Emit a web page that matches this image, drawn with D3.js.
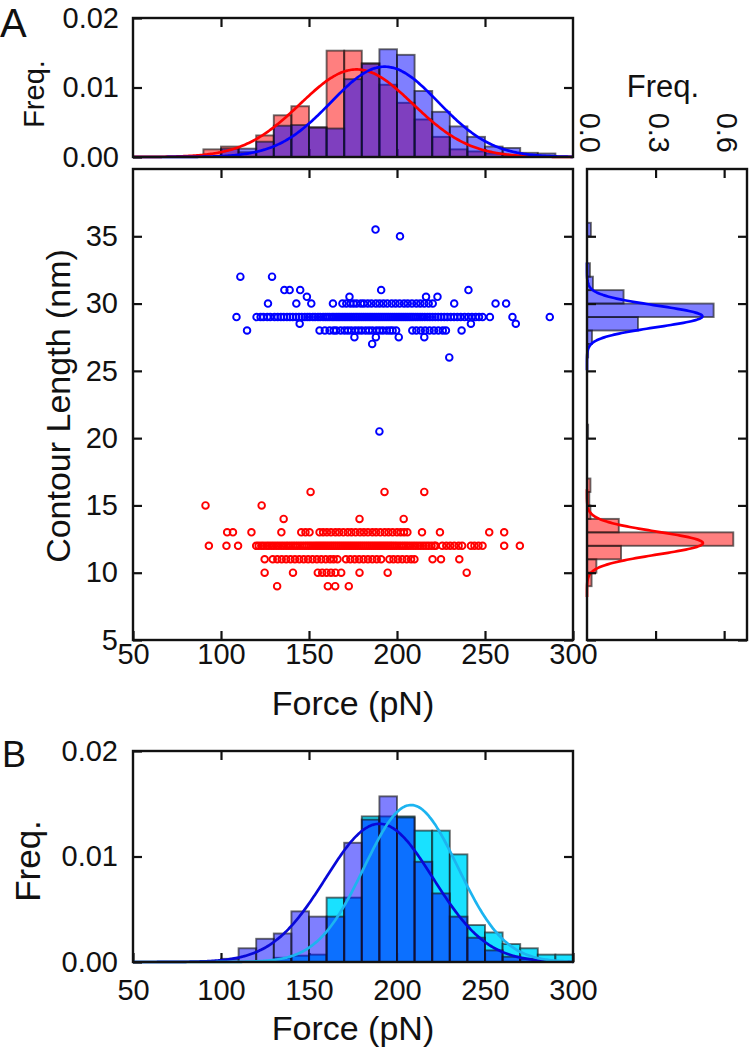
<!DOCTYPE html>
<html><head><meta charset="utf-8">
<script src="https://cdn.jsdelivr.net/npm/d3@7"></script>
<style>
body{margin:0;background:#fff;}
svg text{font-family:"Liberation Sans",Arial,Helvetica,sans-serif;fill:#111;}
</style></head><body>
<svg id="c" width="750" height="1052"></svg>
<script>
// ---------------- DATA ----------------
const forceTicks = [50,100,150,200,250,300];
const lengthTicks = [5,10,15,20,25,30,35];
const freqTicksA = [0.00,0.01,0.02];
const freqTicksRight = [0.0,0.3,0.6];

// Panel A top histogram (10 pN bins, start values)
const topBinStarts = [90,100,110,120,130,140,150,160,170,180,190,200,210,220,230,240,250,260,270,280,290];
const topRed  = [0.0011,0.0015,0.0007,0.0031,0.0060,0.0073,0.0043,0.0153,0.0153,0.0135,0.0104,0.0078,0.0054,0.0029,0.0011,0.0008,0.0005,0.0002,0,0,0];
const topBlue = [0,0.0012,0.0012,0.0022,0.0045,0.0046,0.0042,0.0041,0.0112,0.0134,0.0155,0.0147,0.0095,0.0065,0.0044,0.0029,0.0015,0.0013,0.0006,0.0005,0];
// Gaussian fits: [amplitude, mean, sigma]
const topRedFit  = [0.0126,177,32];
const topBlueFit = [0.0130,193,30.5];

// Panel A right histogram (1 nm bins)
const rightBlueStarts = [20,26,27,28,29,30,31,32,35];
const rightBlue       = [0.005,0.005,0.022,0.223,0.554,0.16,0.026,0.013,0.017];
const rightRedStarts  = [9,10,11,12,13,14,15,16];
const rightRed        = [0.02,0.041,0.149,0.64,0.139,0.015,0.01,0.015];
const rightBlueFit = [0.505,29.05,0.8];
const rightRedFit  = [0.507,12.2,0.85];

// Panel A scatter: contour length rows with forces (pN)
const blueRows = [
  {len:35.5, f:[187.8]},
  {len:35,   f:[201.7]},
  {len:32,   f:[111,129]},
  {len:31,   f:[136,139,145,191,240.6]},
  {len:30.5, f:[148.8,173,216.5,223]},
  {len:30,   f:[126.7,142.8,151.3,163.6,169,171.2,173.5,175.3,177.1,179.5,181.2,183.4,185.5,188,190.1,192.3,194.5,197,199.2,201.5,204,206.1,208.5,211,213.2,215.5,218,220.3,232.5,256,262]},
  {len:29,   f:[108.8,120.2,122.5,124.1,126.3,128,130.4,132.2,134,135.6,137.5,139.2,140.8,142.6,144.3,145.9,147.6,149.1,150.4,152.2,153.5,155.1,156.4,158,159.3,160.5,161.7,163.1,164.2,165.4,166.5,167.6,168.8,169.9,171,172.1,173.2,174.3,175.4,176.5,177.5,178.6,179.7,180.8,181.9,183,184.1,185.2,186.3,187.4,188.5,189.6,190.7,191.8,192.9,194,195.1,196.2,197.3,198.4,199.5,200.6,201.7,202.8,203.9,205,206.1,207.2,208.3,209.4,210.6,211.8,213.1,214.4,215.8,217.3,218.7,220.2,221.8,223.4,225.1,226.9,228.6,230.5,232.4,234.3,236.2,238.4,240.5,242.6,244.7,246.6,248.6,252.8,265.6,286.8]},
  {len:28.5, f:[144.7,242,267.5]},
  {len:28,   f:[114.8,156,159,161.7,164,165.5,168,170.2,172.1,174,176.2,178.1,180,182.2,184.1,186,188.3,190.1,192,194.2,196,197.5,199.5,208.7,211,213.5,216,218.5,221,223.5,226,227.8,236.7]},
  {len:27.5, f:[175.8,188,201,215.5]},
  {len:27,   f:[185.9]},
  {len:26,   f:[229.7]},
  {len:20.5, f:[190]}
];
const redRows = [
  {len:16, f:[150.9,192.9,215.5]},
  {len:15, f:[91.2,123.1]},
  {len:14, f:[135.6,178.7,203.8]},
  {len:13, f:[103.5,106.8,117.3,134.3,145.6,148,150.3,156,158,160.2,162.5,165,167.1,169.5,172,174.1,176.5,179,181.2,183.5,186,188.1,190.5,193,195.2,197.5,200,202.1,204,205.9,214.2,224.4,252.4,260.9]},
  {len:12, f:[93.1,103.1,109.7,120,121.4,122.9,124.3,125.8,127.2,128.6,130,131.4,132.8,134.2,135.6,137,138.3,139.7,141,142.3,143.6,144.9,146.2,147.5,148.7,149.9,151.1,152.3,153.5,154.6,155.7,156.8,157.9,159,160.1,161.2,162.3,163.4,164.5,165.6,166.7,167.8,168.9,170,171.1,172.2,173.3,174.4,175.5,176.6,177.7,178.8,179.9,181,182.1,183.2,184.3,185.4,186.5,187.6,188.7,189.8,190.9,192,193.1,194.2,195.3,196.4,197.5,198.7,199.9,201.2,202.5,203.8,205.1,206.4,207.8,209.2,210.6,212,213.5,215,216.5,218,219.6,221.2,222,225.7,228,230.2,232.5,235,237,242,244,246.3,248.6,260.9,269.8]},
  {len:11, f:[124.8,129.4,132,134.5,137,139.5,142,144.5,147,149.5,152,154.5,157,159.5,162,164,166.2,171,173.5,176,178.5,181,183.5,186,188.5,191,195.7,198,200.5,203,205.5,208,209.9,220.2,225,235.4]},
  {len:10, f:[124.8,140.9,155,157.5,160,162.5,165,168.3,178.7,194.7,239.6]},
  {len:9,  f:[131.9,160.7,164.9,172.6]}
];

// Panel B histogram (10 pN bins)
const bBinStarts = [100,110,120,130,140,150,160,170,180,190,200,210,220,230,240,250,260,270,280,290];
const bBlue = [0.0003,0.0013,0.0022,0.0027,0.0048,0.0043,0.0043,0.0113,0.0135,0.0157,0.0137,0.0095,0.0065,0.0043,0.0023,0.0011,0.0005,0.0003,0,0];
const bCyan = [0,0,0,0.0004,0.0006,0.0007,0.0061,0.0061,0.0138,0.0138,0.0138,0.01245,0.01245,0.0102,0.0035,0.0028,0.0017,0.0013,0.0007,0.0007];
const bBlueFit = [0.0131,190,30.5];
const bCyanFit = [0.01488,208,26.5];

// ---------------- DRAWING ----------------
const svg = d3.select("#c");
const gauss = (p, v) => p[0]*Math.exp(-((v-p[1])**2)/(2*p[2]*p[2]));
const FR = [133, 573];
const tickFont = 29;
const barStroke = "rgba(20,20,20,0.62)";

function frame(x0,y0,x1,y1){
  svg.append("rect").attr("x",x0).attr("y",y0).attr("width",x1-x0).attr("height",y1-y0)
    .attr("fill","none").attr("stroke","#111").attr("stroke-width",2.4);
}
function styleAxis(g, labels){
  g.select(".domain").remove();
  g.selectAll(".tick line").attr("stroke","#111").attr("stroke-width",2.2);
  g.selectAll("text").attr("font-size",tickFont).attr("fill","#111")
   .style("font-family","'Liberation Sans',Arial,sans-serif");
  if(!labels) g.selectAll("text").remove();
}
function hbars(x, y, starts, vals, width, fill){
  svg.append("g").selectAll("rect").data(starts.map((s,i)=>({s, v:vals[i]})).filter(d=>d.v>0))
    .join("rect")
    .attr("x", d=>x(d.s)).attr("width", d=>x(d.s+width)-x(d.s))
    .attr("y", d=>y(d.v)).attr("height", d=>y(0)-y(d.v))
    .attr("fill", fill).attr("stroke", barStroke).attr("stroke-width",1.9);
}
function fitLine(x, y, p, color, dom){
  const pts = d3.range(dom[0], dom[1]+0.01, (dom[1]-dom[0])/300);
  svg.append("path").datum(pts)
    .attr("d", d3.line().x(v=>x(v)).y(v=>y(gauss(p,v))).curve(d3.curveBasis))
    .attr("fill","none").attr("stroke",color).attr("stroke-width",2.7);
}

// ---- A top histogram ----
{
  const x = d3.scaleLinear().domain([50,300]).range(FR);
  const y = d3.scaleLinear().domain([0,0.02]).range([157,18]);
  const gb = svg.append("g").attr("transform","translate(0,157)")
    .call(d3.axisBottom(x).tickValues([100,150,200,250]).tickSize(-8));
  styleAxis(gb,false);
  hbars(x,y,topBinStarts,topRed,10,"rgba(255,0,0,0.5)");
  hbars(x,y,topBinStarts,topBlue,10,"rgba(0,0,255,0.5)");
  fitLine(x,y,topRedFit,"#ff0000",[50,300]);
  fitLine(x,y,topBlueFit,"#0000ff",[50,300]);
  const gt = svg.append("g").attr("transform","translate(0,18)")
    .call(d3.axisTop(x).tickValues([100,150,200,250]).tickSize(-9));
  styleAxis(gt,false);
  const gl = svg.append("g").attr("transform",`translate(${FR[0]},0)`)
    .call(d3.axisLeft(y).tickValues(freqTicksA).tickSize(-9).tickPadding(14).tickFormat(d3.format(".2f")));
  styleAxis(gl,true);
  const gr = svg.append("g").attr("transform",`translate(${FR[1]},0)`)
    .call(d3.axisRight(y).tickValues([0.01]).tickSize(-9));
  styleAxis(gr,false);
  frame(FR[0],18,FR[1],157);
  svg.append("text").attr("transform","translate(44,94) rotate(-90)")
    .attr("text-anchor","middle").attr("font-size",29).text("Freq.");
}

// ---- A scatter ----
const xs = d3.scaleLinear().domain([50,300]).range(FR);
const ys = d3.scaleLinear().domain([5,40]).range([640,169]);
{
  const pts = [];
  blueRows.forEach(r=>r.f.forEach(f=>pts.push({f, l:r.len, c:"#0000ff"})));
  redRows.forEach(r=>r.f.forEach(f=>pts.push({f, l:r.len, c:"#ff0000"})));
  svg.append("g").selectAll("circle").data(pts).join("circle")
    .attr("cx",d=>xs(d.f)).attr("cy",d=>ys(d.l)).attr("r",3.3)
    .attr("fill","none").attr("stroke",d=>d.c).attr("stroke-width",1.9);
  const gb = svg.append("g").attr("transform","translate(0,640)")
    .call(d3.axisBottom(xs).tickValues(forceTicks).tickSize(-9).tickPadding(3));
  styleAxis(gb,true);
  const gt = svg.append("g").attr("transform","translate(0,169)")
    .call(d3.axisTop(xs).tickValues([100,150,200,250]).tickSize(-9));
  styleAxis(gt,false);
  const gl = svg.append("g").attr("transform",`translate(${FR[0]},0)`)
    .call(d3.axisLeft(ys).tickValues(lengthTicks).tickSize(-9).tickPadding(15));
  styleAxis(gl,true);
  const gr = svg.append("g").attr("transform",`translate(${FR[1]},0)`)
    .call(d3.axisRight(ys).tickValues(lengthTicks).tickSize(-9));
  styleAxis(gr,false);
  frame(FR[0],169,FR[1],640);
  svg.append("text").attr("x",353).attr("y",715).attr("text-anchor","middle")
    .attr("font-size",34).text("Force (pN)");
  svg.append("text").attr("transform","translate(70,406) rotate(-90)")
    .attr("text-anchor","middle").attr("font-size",34).text("Contour Length (nm)");
}

// ---- A right histogram ----
{
  const xr = d3.scaleLinear().domain([0,0.7]).range([587,747]);
  const vb = (starts, vals, fill) => {
    svg.append("g").selectAll("rect").data(starts.map((s,i)=>({s, v:vals[i]})))
      .join("rect")
      .attr("x", xr(0)).attr("width", d=>xr(d.v)-xr(0))
      .attr("y", d=>ys(d.s+1)).attr("height", d=>ys(d.s)-ys(d.s+1))
      .attr("fill", fill).attr("stroke", barStroke).attr("stroke-width",1.9);
  };
  vb(rightBlueStarts, rightBlue, "rgba(0,0,255,0.5)");
  vb(rightRedStarts, rightRed, "rgba(255,0,0,0.5)");
  const curve = (p, color) => {
    const pts = d3.range(p[1]-4, p[1]+4.001, 0.04);
    svg.append("path").datum(pts)
      .attr("d", d3.line().x(v=>xr(gauss(p,v))).y(v=>ys(v)))
      .attr("fill","none").attr("stroke",color).attr("stroke-width",2.7);
  };
  curve(rightBlueFit,"#0000ff");
  curve(rightRedFit,"#ff0000");
  const gt = svg.append("g").attr("transform","translate(0,169)")
    .call(d3.axisTop(xr).tickValues([0.3,0.6]).tickSize(-9));
  styleAxis(gt,false);
  const gb = svg.append("g").attr("transform","translate(0,640)")
    .call(d3.axisBottom(xr).tickValues([0.3,0.6]).tickSize(-9));
  styleAxis(gb,false);
  const gl = svg.append("g").attr("transform","translate(587,0)")
    .call(d3.axisLeft(ys).tickValues(lengthTicks).tickSize(-9));
  styleAxis(gl,false);
  const gr = svg.append("g").attr("transform","translate(747,0)")
    .call(d3.axisRight(ys).tickValues(lengthTicks).tickSize(-9));
  styleAxis(gr,false);
  frame(587,169,747,640);
  svg.append("g").selectAll("text").data(freqTicksRight).join("text")
    .attr("transform", d=>`translate(${xr(d)+3},153) rotate(90)`)
    .attr("text-anchor","end").attr("dominant-baseline","central")
    .attr("font-size",tickFont).text(d=>d3.format(".1f")(d));
  svg.append("text").attr("x",663).attr("y",97).attr("text-anchor","middle")
    .attr("font-size",31).text("Freq.");
}

// ---- B histogram ----
{
  const x = d3.scaleLinear().domain([50,300]).range(FR);
  const y = d3.scaleLinear().domain([0,0.02]).range([962,751]);
  const gb = svg.append("g").attr("transform","translate(0,962)")
    .call(d3.axisBottom(x).tickValues(forceTicks).tickSize(-9).tickPadding(17));
  styleAxis(gb,true);
  hbars(x,y,bBinStarts,bCyan,10,"rgba(0,222,255,0.9)");
  hbars(x,y,bBinStarts,bBlue,10,"rgba(0,0,255,0.5)");
  fitLine(x,y,bBlueFit,"#0808d8",[50,300]);
  fitLine(x,y,bCyanFit,"#1cb4f0",[50,300]);
  const gt = svg.append("g").attr("transform","translate(0,751)")
    .call(d3.axisTop(x).tickValues([100,150,200,250]).tickSize(-9));
  styleAxis(gt,false);
  const gl = svg.append("g").attr("transform",`translate(${FR[0]},0)`)
    .call(d3.axisLeft(y).tickValues(freqTicksA).tickSize(-9).tickPadding(15).tickFormat(d3.format(".2f")));
  styleAxis(gl,true);
  const gr = svg.append("g").attr("transform",`translate(${FR[1]},0)`)
    .call(d3.axisRight(y).tickValues([0.01]).tickSize(-9));
  styleAxis(gr,false);
  frame(FR[0],751,FR[1],962);
  svg.append("text").attr("x",353).attr("y",1040).attr("text-anchor","middle")
    .attr("font-size",34).text("Force (pN)");
  svg.append("text").attr("transform","translate(40,861) rotate(-90)")
    .attr("text-anchor","middle").attr("font-size",35).text("Freq.");
}

// panel letters
svg.append("text").attr("x",0).attr("y",37).attr("font-size",40).text("A");
svg.append("text").attr("x",2).attr("y",767).attr("font-size",36).text("B");
</script>
</body></html>
